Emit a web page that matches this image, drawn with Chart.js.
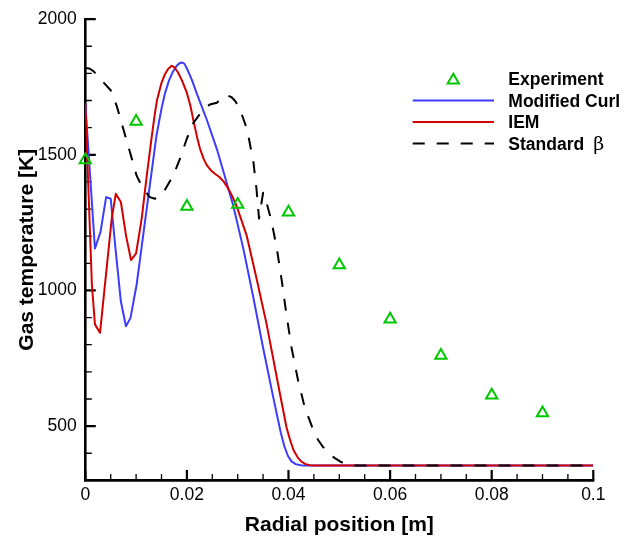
<!DOCTYPE html>
<html>
<head>
<meta charset="utf-8">
<script src="https://cdn.jsdelivr.net/npm/chart.js@4/dist/chart.umd.min.js"></script>
<style>
  html, body { margin: 0; padding: 0; background: #fff; }
  #wrap { width: 624px; height: 539px; }
</style>
</head>
<body>
<div id="wrap"><canvas id="c" width="624" height="539"></canvas></div>
<script>
// Radial gas temperature profiles: measurements vs. three mixing models
const expR  = [0, 0.01, 0.02, 0.03, 0.04, 0.05, 0.06, 0.07, 0.08, 0.09];
const expT  = [1481, 1623, 1309, 1317, 1288, 1094, 894, 760, 614, 548];

const curlR = [0, 0.0019, 0.003, 0.0041, 0.005, 0.006, 0.007, 0.008, 0.0089, 0.0101,
               0.0114, 0.0127, 0.014, 0.015, 0.0157, 0.0165, 0.0173, 0.018, 0.0186, 0.019,
               0.0195, 0.02, 0.021, 0.0219, 0.0239, 0.0259, 0.0278, 0.0291, 0.0311, 0.0331,
               0.035, 0.037, 0.0378, 0.0385, 0.0392, 0.0399, 0.0406, 0.0414, 0.0424, 0.043,
               0.1];
const curlT = [1690, 1155, 1216, 1344, 1338, 1143, 960, 868, 899, 1021,
               1204, 1387, 1570, 1670, 1728, 1775, 1808, 1828, 1838, 1840,
               1836, 1818, 1775, 1728, 1630, 1521, 1399, 1314, 1155, 972,
               789, 606, 535, 475, 425, 390, 370, 360, 356, 355,
               355];

const iemR  = [0, 0.0013, 0.0019, 0.0029, 0.0042, 0.0052, 0.006, 0.007, 0.008, 0.009,
               0.01, 0.0111, 0.0121, 0.0131, 0.0136, 0.0141, 0.015, 0.0157, 0.0163, 0.017,
               0.0175, 0.0182, 0.019, 0.02, 0.0207, 0.0213, 0.022, 0.0226, 0.0233, 0.0239,
               0.0247, 0.0255, 0.0264, 0.0272, 0.028, 0.0288, 0.0297, 0.0305, 0.0318, 0.0337,
               0.0357, 0.0377, 0.0396, 0.0403, 0.041, 0.0418, 0.0426, 0.0434, 0.0442, 0.045,
               0.1];
const iemT  = [1690, 1021, 875, 844, 1082, 1265, 1356, 1326, 1204, 1112,
               1137, 1265, 1423, 1570, 1640, 1700, 1765, 1798, 1816, 1828,
               1823, 1805, 1775, 1728, 1680, 1625, 1565, 1521, 1485, 1462,
               1443, 1430, 1418, 1402, 1380, 1352, 1315, 1272, 1200, 1045,
               875, 679, 496, 450, 411, 385, 368, 360, 356, 355,
               355];

const betaR = [0, 0.0008, 0.0016, 0.0035, 0.005, 0.0062, 0.0075, 0.0088, 0.0101, 0.0114,
               0.0127, 0.0137, 0.0145, 0.0154, 0.0173, 0.0186, 0.02, 0.0213, 0.0232, 0.0245,
               0.0259, 0.027, 0.0278, 0.0288, 0.0295, 0.0302, 0.0308, 0.0315, 0.0321, 0.0331,
               0.0337, 0.0342, 0.035, 0.0358, 0.0366, 0.0377, 0.0387, 0.0396, 0.0406, 0.0419,
               0.0432, 0.0449, 0.0458, 0.0468, 0.048, 0.0492, 0.0503, 0.0515, 0.053, 0.1];
const betaT = [1820, 1818, 1808, 1768, 1738, 1679, 1594, 1509, 1423, 1374,
               1344, 1338, 1345, 1362, 1423, 1484, 1560, 1618, 1667, 1685,
               1692, 1712, 1720, 1712, 1698, 1678, 1649, 1612, 1570, 1472,
               1374, 1265, 1360, 1315, 1260, 1155, 1033, 911, 789, 667,
               569, 484, 450, 423, 398, 381, 368, 360, 355, 355];

const xTickValues = [0, 0.02, 0.04, 0.06, 0.08, 0.1];
const xTickLabels = ['0', '0.02', '0.04', '0.06', '0.08', '0.1'];
const yTickValues = [500, 1000, 1500, 2000];
const yTickLabels = ['500', '1000', '1500', '2000'];

const seriesNames = ['Experiment', 'Modified Curl', 'IEM', 'Standard \u03B2'];

const pairs = (xs, ys) => xs.map((x, i) => ({ x: x, y: ys[i] }));

const FONT = '"Liberation Sans", Arial, Helvetica, sans-serif';

// Axis lines with inward major/minor ticks
const frameAxes = {
  id: 'frameAxes',
  beforeDatasetsDraw(chart) {
    const { ctx, chartArea: a, scales: { x, y } } = chart;
    ctx.save();
    ctx.strokeStyle = '#000';
    ctx.lineCap = 'butt';
    // minor ticks
    ctx.lineWidth = 1.3;
    ctx.beginPath();
    for (let k = 1; k < 20; k++) {
      if (k % 4 === 0) continue;
      const px = x.getPixelForValue(k * 0.005);
      ctx.moveTo(px, a.bottom); ctx.lineTo(px, a.bottom - 6.5);
    }
    for (let v = 400; v < 2000; v += 100) {
      if (v % 500 === 0) continue;
      const py = y.getPixelForValue(v);
      ctx.moveTo(a.left, py); ctx.lineTo(a.left + 6.5, py);
    }
    ctx.stroke();
    // major ticks
    ctx.lineWidth = 2.2;
    ctx.beginPath();
    xTickValues.forEach(v => {
      const px = x.getPixelForValue(v);
      ctx.moveTo(px, a.bottom); ctx.lineTo(px, a.bottom - 10.5);
    });
    yTickValues.forEach(v => {
      const py = y.getPixelForValue(v);
      ctx.moveTo(a.left, py); ctx.lineTo(a.left + 10.5, py);
    });
    ctx.stroke();
    // axis lines
    ctx.lineWidth = 2.6;
    ctx.beginPath();
    ctx.moveTo(a.left, a.top - 1);
    ctx.lineTo(a.left, a.bottom);
    ctx.lineTo(a.right + 1, a.bottom);
    ctx.stroke();
    ctx.restore();
  }
};

// Legend block in the upper right
const sideLegend = {
  id: 'sideLegend',
  afterDraw(chart) {
    const { ctx } = chart;
    const x0 = 412.7, x1 = 494, xm = 453.3, xt = 508.3, yc0 = 78.8, dy = 21.6;
    ctx.save();
    chart.data.datasets.forEach((ds, i) => {
      const yc = yc0 + i * dy;
      if (ds.showLine === false) {
        ctx.strokeStyle = ds.borderColor;
        ctx.lineWidth = 2;
        const r = 6.5, cy = yc + 1.4;
        ctx.beginPath();
        ctx.moveTo(xm, cy - r);
        ctx.lineTo(xm + r * Math.sin(2 * Math.PI / 3), cy + r * 0.5);
        ctx.lineTo(xm - r * Math.sin(2 * Math.PI / 3), cy + r * 0.5);
        ctx.closePath();
        ctx.stroke();
      } else {
        ctx.strokeStyle = ds.borderColor;
        ctx.lineWidth = ds.borderWidth;
        ctx.setLineDash(ds.borderDash || []);
        ctx.beginPath();
        ctx.moveTo(x0, yc);
        ctx.lineTo(x1, yc);
        ctx.stroke();
        ctx.setLineDash([]);
      }
      ctx.fillStyle = '#000';
      ctx.textBaseline = 'alphabetic';
      ctx.textAlign = 'left';
      const base = yc + 6.3;
      const words = ds.label.split(' ');
      const last = words[words.length - 1];
      if (/[\u0370-\u03FF]/.test(last)) {
        const head = words.slice(0, -1).join(' ');
        ctx.font = 'bold 17.5px ' + FONT;
        ctx.fillText(head, xt, base);
        const w = ctx.measureText(head).width;
        ctx.font = '19px "DejaVu Serif", "Liberation Serif", serif';
        ctx.fillText(last, xt + w + 9, base);
      } else {
        ctx.font = 'bold 17.5px ' + FONT;
        ctx.fillText(ds.label, xt, base);
      }
    });
    ctx.restore();
  }
};

new Chart(document.getElementById('c'), {
  type: 'scatter',
  data: {
    datasets: [
      {
        label: seriesNames[0],
        data: pairs(expR, expT),
        showLine: false,
        pointStyle: 'triangle',
        pointRadius: 6.5,
        pointBorderWidth: 2,
        borderColor: '#00c800',
        backgroundColor: 'rgba(0,0,0,0)',
        clip: false,
        order: 0
      },
      {
        label: seriesNames[1],
        data: pairs(curlR, curlT),
        showLine: true,
        borderColor: '#3c3cff',
        borderWidth: 2,
        pointRadius: 0,
        tension: 0,
        borderJoinStyle: 'round',
        order: 3
      },
      {
        label: seriesNames[2],
        data: pairs(iemR, iemT),
        showLine: true,
        borderColor: '#d40000',
        borderWidth: 2,
        pointRadius: 0,
        tension: 0,
        borderJoinStyle: 'round',
        order: 2
      },
      {
        label: seriesNames[3],
        data: pairs(betaR, betaT),
        showLine: true,
        borderColor: '#000000',
        borderWidth: 2,
        borderDash: [12, 12],
        pointRadius: 0,
        tension: 0,
        borderJoinStyle: 'round',
        order: 1
      }
    ]
  },
  options: {
    responsive: false,
    animation: false,
    devicePixelRatio: 1,
    layout: { padding: { left: 0, right: 30.7, top: 15.7, bottom: 0 } },
    plugins: {
      legend: { display: false },
      tooltip: { enabled: false }
    },
    scales: {
      x: {
        type: 'linear',
        position: 'bottom',
        min: 0,
        max: 0.1,
        afterBuildTicks: s => { s.ticks = xTickValues.map(v => ({ value: v })); },
        afterFit: s => { s.height = 58.6; },
        grid: { display: false, drawTicks: false },
        border: { display: false },
        ticks: {
          color: '#000',
          font: { family: FONT, size: 17.5 },
          padding: 4,
          maxRotation: 0,
          autoSkip: false,
          callback: (v, i) => xTickLabels[i]
        },
        title: {
          display: true,
          text: 'Radial position [m]',
          color: '#000',
          font: { family: FONT, size: 21, weight: 'bold' },
          padding: { top: 0, bottom: 1 }
        }
      },
      y: {
        type: 'linear',
        position: 'left',
        min: 300,
        max: 2000,
        afterBuildTicks: s => { s.ticks = yTickValues.map(v => ({ value: v })); },
        afterFit: s => { s.width = 85.3; },
        grid: { display: false, drawTicks: false },
        border: { display: false },
        ticks: {
          color: '#000',
          font: { family: FONT, size: 17.5 },
          padding: 8.6,
          autoSkip: false,
          callback: (v, i) => yTickLabels[i]
        },
        title: {
          display: true,
          text: 'Gas temperature [K]',
          color: '#000',
          font: { family: FONT, size: 21, weight: 'bold' },
          padding: { top: 15, bottom: 0 }
        }
      }
    }
  },
  plugins: [frameAxes, sideLegend]
});
</script>
</body>
</html>
